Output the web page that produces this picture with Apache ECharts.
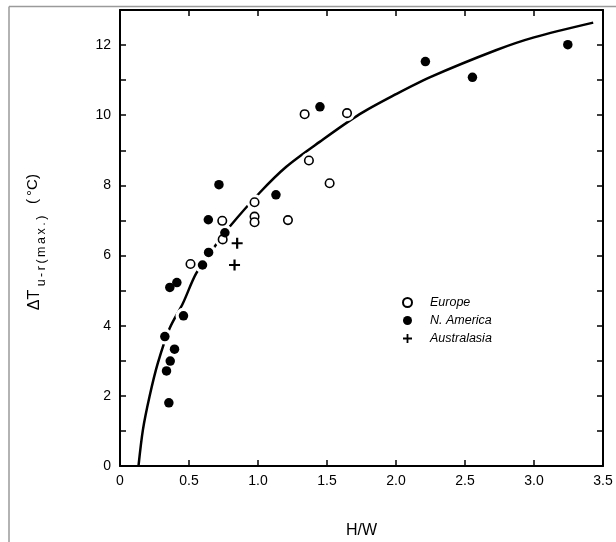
<!DOCTYPE html>
<html>
<head>
<meta charset="utf-8">
<script src="https://cdn.jsdelivr.net/npm/echarts@6/dist/echarts.min.js"></script>
<style>
  html, body { margin: 0; padding: 0; background: #fff; }
  #chart { width: 616px; height: 542px; }
</style>
</head>
<body>
<div id="chart"></div>
<script>
// Street canyon geometry (H/W) vs. maximum urban-rural temperature difference
const europe = [
  [1.338, 10.03], [1.645, 10.06], [1.369, 8.71], [1.519, 8.06],
  [0.975, 7.52], [0.975, 7.11], [0.975, 6.95], [1.217, 7.01],
  [0.741, 6.99], [0.744, 6.46], [0.511, 5.76]
];
const northAmerica = [
  [1.449, 10.24], [0.717, 8.02], [1.130, 7.73], [0.640, 7.02],
  [0.760, 6.65], [0.642, 6.09], [0.598, 5.73], [0.361, 5.09],
  [0.412, 5.23], [0.460, 4.28], [0.325, 3.69], [0.395, 3.33],
  [0.364, 2.99], [0.337, 2.71], [0.354, 1.80],
  [2.213, 11.53], [2.554, 11.08], [3.245, 12.01]
];
const australasia = [
  [0.849, 6.35], [0.830, 5.73]
];
// Fitted curve, traced point by point
const fitCurve = [
  [0.134, 0.0], [0.166, 1.03], [0.214, 1.98], [0.274, 2.93],
  [0.359, 3.92], [0.456, 4.64], [0.552, 5.49], [0.685, 6.25],
  [0.794, 6.82], [1.012, 7.79], [1.205, 8.53], [1.447, 9.24],
  [1.737, 10.03], [2.0, 10.6], [2.244, 11.08], [2.728, 11.86],
  [3.0, 12.22], [3.429, 12.64]
];
const xTickLabels = ['0', '0.5', '1.0', '1.5', '2.0', '2.5', '3.0', '3.5'];
const yTickLabels = ['0', '2', '4', '6', '8', '10', '12'];

const INK = '#000';
const FONT = '"Liberation Sans", Arial, sans-serif';
const plusPath = 'path://M4,0H6V4H10V6H6V10H4V6H0V4H4Z';
const TS = '\u2009'; // thin space used to open up the subscript

const chart = echarts.init(document.getElementById('chart'), null, { renderer: 'canvas' });

const axisLine = { show: true, onZero: false, lineStyle: { color: INK, width: 2 } };
const tick = { show: true, inside: true, length: 6, lineStyle: { color: INK, width: 1.5 } };

const haloData = europe.concat(northAmerica, australasia);

chart.setOption({
  animation: false,
  backgroundColor: '#fff',
  grid: { left: 120, right: 13, top: 10, bottom: 76, containLabel: false, outerBoundsMode: 'none' },
  xAxis: [
    {
      type: 'value', min: 0, max: 3.5, interval: 0.5, position: 'bottom',
      axisLine: axisLine, axisTick: tick, splitLine: { show: false },
      axisLabel: {
        color: INK, fontFamily: FONT, fontSize: 14, margin: 8,
        formatter: (v) => xTickLabels[Math.round(v / 0.5)] ?? ''
      },
      name: 'H/W', nameLocation: 'middle', nameGap: 57,
      nameTextStyle: { color: INK, fontFamily: FONT, fontSize: 16 }
    },
    {
      type: 'value', min: 0, max: 3.5, interval: 0.5, position: 'top',
      axisLine: axisLine, axisTick: tick, axisLabel: { show: false }, splitLine: { show: false }
    }
  ],
  yAxis: [
    {
      type: 'value', min: 0, max: 13, interval: 1, position: 'left',
      axisLine: axisLine, axisTick: tick, splitLine: { show: false },
      axisLabel: {
        color: INK, fontFamily: FONT, fontSize: 14, margin: 9,
        formatter: (v) => (v % 2 === 0 ? yTickLabels[v / 2] : '')
      }
    },
    {
      type: 'value', min: 0, max: 13, interval: 1, position: 'right',
      axisLine: axisLine, axisTick: tick, axisLabel: { show: false }, splitLine: { show: false }
    }
  ],
  legend: {
    orient: 'vertical', left: 402, top: 296, itemGap: 5, padding: 0,
    itemWidth: 9, itemHeight: 9,
    data: ['Europe', 'N. America', 'Australasia'],
    textStyle: { color: INK, fontFamily: FONT, fontSize: 12.5, fontStyle: 'italic', padding: [0, 0, 0, 13] }
  },
  series: [
    {
      name: 'fit', type: 'line', data: fitCurve, smooth: 0.3, showSymbol: false,
      lineStyle: { color: INK, width: 2.5 }, z: 2, silent: true
    },
    {
      name: 'halo', type: 'scatter', data: haloData, symbol: 'circle', symbolSize: 16,
      itemStyle: { color: '#fff', opacity: 1 }, z: 3, silent: true
    },
    {
      name: 'Europe', type: 'scatter', data: europe, symbol: 'circle', symbolSize: 8.5,
      itemStyle: { color: '#fff', borderColor: INK, borderWidth: 1.6, opacity: 1 }, z: 5
    },
    {
      name: 'N. America', type: 'scatter', data: northAmerica, symbol: 'circle', symbolSize: 9.5,
      itemStyle: { color: INK, opacity: 1 }, z: 5
    },
    {
      name: 'Australasia', type: 'scatter', data: australasia, symbol: plusPath, symbolSize: 11,
      itemStyle: { color: INK, opacity: 1 }, z: 5
    }
  ],
  graphic: [
    // page frame edges
    { type: 'line', shape: { x1: 9, y1: 6.5, x2: 616, y2: 6.5 }, style: { stroke: '#9a9a9a', lineWidth: 1.5 }, silent: true },
    { type: 'line', shape: { x1: 9, y1: 6.5, x2: 9, y2: 542 }, style: { stroke: '#9a9a9a', lineWidth: 1.5 }, silent: true },
    // y-axis title
    { type: 'text', x: 35, y: 300, rotation: Math.PI / 2,
      style: { text: 'ΔT', font: '16px ' + FONT, fill: INK, textAlign: 'center', textVerticalAlign: 'middle' } },
    { type: 'text', x: 42, y: 251, rotation: Math.PI / 2,
      style: { text: ['u', '-', 'r', '(', 'm', 'a', 'x', '.', ')'].join(TS), font: '12.5px ' + FONT, fill: INK, textAlign: 'center', textVerticalAlign: 'middle' } },
    { type: 'text', x: 33, y: 189, rotation: Math.PI / 2,
      style: { text: '(' + TS + '°C)', font: '15px ' + FONT, fill: INK, textAlign: 'center', textVerticalAlign: 'middle' } }
  ]
});
</script>
</body>
</html>
